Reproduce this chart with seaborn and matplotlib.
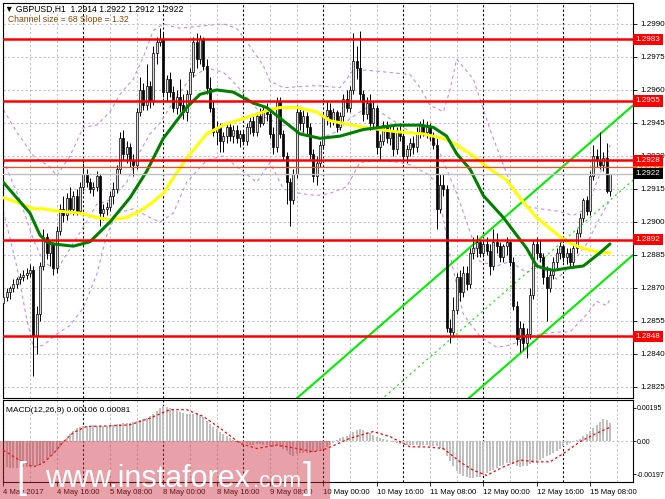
import numpy as np
import seaborn as sns
import matplotlib
matplotlib.use("Agg")
import matplotlib.pyplot as plt
from matplotlib.patches import Rectangle
from matplotlib.transforms import blended_transform_factory

# GBPUSD H1, 4 May 2017 00:00 .. 15 May 2017 14:00, one entry per bar
# prices are pips above 1.2800
BASE = 1.2800
open_pips = [63, 66, 68, 70, 72, 74, 75, 76, 77, 78, 48, 58, 80, 93, 86, 90, 79, 96, 106, 103,
             111, 106, 112, 105, 116, 122, 118, 115, 116, 121, 104, 106, 107, 112, 115, 124, 138, 131, 134, 128,
             126, 150, 160, 153, 162, 155, 177, 182, 183, 159, 165, 159, 152, 157, 153, 150, 158, 168, 182, 174,
             183, 171, 161, 152, 141, 143, 137, 139, 143, 139, 142, 138, 140, 137, 143, 146, 141, 148, 145, 151,
             149, 140, 134, 155, 140, 130, 118, 110, 122, 150, 145, 148, 143, 131, 121, 127, 135, 148, 151, 146,
             150, 143, 148, 156, 152, 160, 173, 170, 158, 149, 154, 145, 152, 134, 137, 144, 138, 142, 133, 141,
             139, 130, 133, 136, 134, 141, 144, 141, 143, 139, 135, 106, 117, 115, 52, 50, 60, 75, 68, 77,
             72, 86, 88, 91, 86, 90, 87, 80, 91, 89, 84, 89, 91, 82, 62, 47, 52, 45, 49, 67,
             90, 86, 84, 75, 70, 76, 82, 86, 89, 84, 86, 82, 88, 95, 102, 110, 105, 121, 130, 128,
             126, 129, 114]
high_pips = [68, 70, 71, 74, 75, 77, 78, 79, 81, 80, 62, 82, 97, 95, 92, 91, 98, 108, 112, 113,
             116, 114, 115, 118, 127, 124, 120, 118, 123, 122, 108, 109, 114, 118, 126, 141, 142, 137, 136, 131,
             152, 166, 163, 172, 164, 180, 184, 188, 186, 167, 168, 162, 160, 165, 158, 160, 170, 184, 186, 185,
             184, 174, 166, 155, 146, 145, 141, 145, 146, 144, 144, 142, 142, 145, 148, 148, 150, 152, 153, 154,
             151, 143, 157, 157, 142, 132, 120, 124, 153, 152, 151, 150, 145, 133, 130, 137, 150, 155, 154, 152,
             151, 150, 158, 160, 162, 186, 180, 187, 160, 157, 158, 155, 153, 140, 146, 146, 144, 144, 143, 145,
             141, 135, 138, 139, 143, 146, 147, 146, 145, 141, 138, 122, 122, 117, 56, 66, 77, 78, 80, 80,
             88, 93, 94, 92, 92, 93, 90, 97, 95, 91, 90, 93, 92, 84, 64, 55, 54, 52, 70, 92,
             93, 92, 86, 80, 78, 84, 88, 91, 90, 88, 88, 90, 97, 104, 111, 112, 123, 135, 133, 141,
             132, 136, 122]
low_pips = [61, 64, 65, 68, 70, 72, 73, 74, 75, 30, 40, 55, 78, 83, 80, 76, 77, 94, 100, 101,
            104, 103, 103, 104, 114, 116, 113, 112, 114, 98, 101, 103, 105, 108, 113, 122, 128, 127, 125, 121,
            124, 148, 151, 151, 152, 153, 172, 180, 157, 155, 157, 150, 149, 150, 147, 146, 155, 166, 170, 172,
            169, 158, 150, 139, 135, 132, 132, 136, 137, 136, 136, 134, 135, 135, 140, 139, 139, 143, 144, 146,
            138, 131, 132, 138, 128, 108, 98, 108, 120, 142, 141, 140, 128, 118, 117, 125, 133, 144, 143, 144,
            141, 142, 146, 150, 150, 158, 165, 155, 146, 147, 142, 143, 131, 128, 135, 136, 135, 130, 131, 137,
            128, 127, 130, 131, 132, 138, 139, 138, 137, 133, 97, 104, 112, 50, 45, 48, 58, 64, 66, 69,
            70, 83, 84, 84, 84, 85, 76, 78, 86, 82, 82, 85, 80, 60, 44, 41, 42, 38, 47, 65,
            83, 82, 72, 55, 68, 74, 79, 83, 82, 81, 80, 80, 86, 93, 100, 103, 103, 119, 125, 124,
            123, 113, 112]
close_pips = [66, 68, 70, 72, 74, 75, 76, 77, 78, 48, 58, 80, 93, 86, 90, 79, 96, 106, 103, 111,
              106, 112, 105, 116, 122, 118, 115, 116, 121, 104, 106, 107, 112, 115, 124, 138, 131, 134, 128, 126,
              150, 160, 153, 162, 155, 177, 182, 183, 159, 165, 159, 152, 157, 153, 150, 158, 168, 182, 174, 183,
              171, 161, 152, 141, 143, 137, 139, 143, 139, 142, 138, 140, 137, 143, 146, 141, 148, 145, 151, 149,
              140, 134, 155, 140, 130, 118, 110, 122, 150, 145, 148, 143, 131, 121, 127, 135, 148, 151, 146, 150,
              143, 148, 156, 152, 160, 173, 170, 158, 149, 154, 145, 152, 134, 137, 144, 138, 142, 133, 141, 139,
              130, 133, 136, 134, 141, 144, 141, 143, 139, 135, 106, 117, 115, 52, 50, 60, 75, 68, 77, 72,
              86, 88, 91, 86, 90, 87, 80, 91, 89, 84, 89, 91, 82, 62, 47, 52, 45, 49, 67, 90,
              86, 84, 75, 70, 76, 82, 86, 89, 84, 86, 82, 88, 95, 102, 110, 105, 121, 130, 128, 126,
              129, 114, 122]

# moving averages (bar index, pips)
green_bar = [0, 4, 8, 11, 13, 15, 21, 26, 32, 38, 43, 48, 55, 59, 64, 69, 75, 79, 84, 89, 95, 101, 108, 118,
             125, 129, 133, 136, 140, 144, 150, 153, 157, 160, 162, 165, 169, 174, 179, 182]
green_pips = [118, 111, 104, 94, 91, 90, 89, 91, 100, 111, 123, 138, 152, 158, 160, 159, 154, 152, 146, 140,
              138, 139, 142, 144, 144, 143, 139, 131, 124, 112, 102, 96, 88, 80, 79, 78, 79, 80, 86, 90]
yellow_bar = [0, 4, 9, 12, 16, 23, 28, 32, 37, 41, 44, 48, 51, 55, 61, 66, 70, 76, 80, 83, 88, 94, 98, 108,
              118, 126, 132, 135, 141, 146, 151, 156, 160, 164, 169, 174, 179, 182]
yellow_pips = [111, 109, 106, 106, 105, 104, 102, 101, 102, 105, 108, 113, 120, 129, 140, 144, 146, 149, 151,
               152, 152, 150, 146, 143, 141, 140, 138, 136, 130, 124, 119, 109, 102, 97, 91, 88, 86, 86]

# bollinger bands (bar index, pips)
upper_bar = [0, 4, 9, 14, 16, 20, 24, 28, 32, 35, 39, 42, 45, 48, 53, 59, 66, 70, 73, 78, 80, 84, 94, 101,
             105, 109, 122, 125, 128, 132, 134, 136, 141, 146, 150, 153, 157, 161, 166, 171, 175, 178, 181, 182]
upper_pips = [151, 141, 130, 125, 121, 130, 143, 144, 150, 158, 165, 175, 187, 190, 188, 189, 190, 188, 182,
              171, 164, 161, 162, 161, 169, 169, 167, 161, 153, 150, 160, 174, 165, 142, 126, 114, 107, 106,
              105, 103, 106, 118, 130, 135]
middle_bar = [0, 5, 9, 12, 16, 20, 25, 28, 32, 37, 41, 44, 47, 52, 56, 61, 66, 70, 74, 78, 82, 86, 91, 95,
              100, 104, 109, 113, 118, 122, 127, 130, 133, 136, 139, 143, 148, 152, 157, 161, 166, 170, 175,
              179, 182]
middle_pips = [128, 110, 92, 82, 78, 88, 100, 108, 110, 118, 132, 140, 145, 157, 165, 170, 168, 162, 155,
               148, 145, 143, 140, 138, 141, 147, 152, 150, 145, 141, 139, 135, 124, 113, 100, 82, 80, 82,
               77, 80, 74, 80, 90, 102, 110]
lower_bar = [0, 4, 7, 9, 12, 16, 20, 24, 28, 31, 34, 39, 44, 47, 51, 55, 61, 66, 71, 76, 80, 84, 89, 94,
             98, 103, 107, 113, 119, 122, 127, 130, 134, 138, 143, 148, 152, 157, 161, 166, 170, 175, 178,
             181, 182]
lower_pips = [105, 80, 56, 43, 44, 49, 53, 61, 76, 94, 104, 106, 102, 100, 104, 118, 128, 130, 124, 118,
              127, 115, 113, 112, 113, 116, 127, 128, 127, 126, 122, 118, 85, 58, 48, 43, 44, 47, 49, 50,
              50, 58, 64, 62, 65]

# regression channel
channel_bar = [88, 189]
channel_top = [1.28198, 1.29531]
channel_size = 68
channel_slope = 1.32

# horizontal levels
levels = [1.2983, 1.2955, 1.2928, 1.2892, 1.2848]
ask_level = 1.2925
bid_level = 1.2922

# MACD(12,26,9), values in 1e-5
macd_main = [-150, -155, -158, -160, -160, -158, -156, -155, -153, -150, -148, -140,
             -128, -112, -95, -78, -58, -35, -10, 15, 40, 60, 75, 82, 86, 88, 90,
             92, 90, 88, 87, 90, 92, 95, 98, 100, 104, 106, 108, 112, 118, 125, 130, 138, 145,
             160, 175, 192, 205, 200, 195, 188, 180, 172, 165, 162, 158, 160, 162, 155,
             140, 120, 100, 85, 70, 55, 42, 30, 18, 8,
             -5, -12, -18, -20, -22, -24, -20, -18, -22, -25, -30, -35, -25, -35,
             -45, -60, -80, -90, -75, -70, -72, -70, -68, -65, -60, -50, -45, -35, -22,
             -10, 5, 15, 22, 30, 40, 55, 65, 72, 65, 55, 45, 35, 25, 15,
             10, 5, 0, -5, -10, -15, -18, -22, -25, -22, -25, -28, -26, -24, -28, -30, -32, -40,
             -55, -90, -120, -150, -175, -195, -205, -215, -220, -218, -215, -210,
             -200, -190, -180, -170, -160, -150, -140, -132, -128, -135, -145, -152, -150, -145,
             -138, -130, -120, -110, -100, -90, -80, -70, -58, -45, -32, -22, -12, -4, 4,
             14, 28, 42, 58, 75, 92, 112, 128, 125, 106]
signal_bar = [0, 5, 9, 12, 15, 18, 21, 25, 30, 35, 38, 44, 50, 55, 60, 65, 71, 76, 82, 88, 93, 97, 104,
              111, 116, 122, 127, 132, 137, 141, 145, 150, 155, 160, 164, 168, 173, 178, 182]
signal_val = [-55, -115, -153, -130, -75, -5, 50, 86, 88, 92, 96, 135, 185, 185, 145, 76, -14, -44, -24,
              -44, -64, -45, 16, 56, 26, -34, -35, -44, -123, -173, -203, -153, -113, -123, -123, -74, -4,
              46, 81]

price_ticks = [1.2825, 1.2840, 1.2855, 1.2870, 1.2885, 1.2900, 1.2915, 1.2930, 1.2945, 1.2960, 1.2975, 1.2990]
date_bars = [0, 16, 32, 48, 64, 80, 96, 112, 128, 144, 160, 176]
date_labels = ["4 May 2017", "4 May 16:00", "5 May 08:00", "8 May 00:00", "8 May 16:00", "9 May 08:00",
               "10 May 00:00", "10 May 16:00", "11 May 08:00", "12 May 00:00", "12 May 16:00", "15 May 08:00"]

sns.set_theme(style="white")
plt.rcParams["font.family"] = ["Liberation Sans", "DejaVu Sans"]
plt.rcParams["axes.edgecolor"] = "black"
plt.rcParams["axes.linewidth"] = 0.8

px = lambda v: BASE + np.asarray(v) / 10000.0
o, h, l, c = px(open_pips), px(high_pips), px(low_pips), px(close_pips)
idx = np.arange(len(c))
xmin, xmax = -0.1, 188.9

fig = plt.figure(figsize=(6.65, 4.99), dpi=100)
ax = fig.add_axes([3 / 665, 1 - 398 / 499, 630 / 665, 395 / 499])
axm = fig.add_axes([3 / 665, 1 - 482 / 499, 630 / 665, 82 / 499])

# grid: gray every 8 bars, black day separators every 24 bars
for a in (ax, axm):
    for g in range(0, 189, 8):
        col = "black" if g % 24 == 0 else "#c4c4c4"
        a.axvline(g, color=col, lw=0.8, ls=(0, (2, 2)), zorder=1)
for t in price_ticks:
    ax.axhline(t, color="#c4c4c4", lw=0.8, ls=(0, (2, 2)), zorder=1)

# bollinger bands
band_kw = dict(color="#c58ee8", lw=0.8, linestyle=(0, (3, 3)), ax=ax, legend=False, zorder=2)
sns.lineplot(x=upper_bar, y=px(upper_pips), **band_kw)
sns.lineplot(x=middle_bar, y=px(middle_pips), **band_kw)
sns.lineplot(x=lower_bar, y=px(lower_pips), **band_kw)

# regression channel
top = np.array(channel_top)
size = channel_size / 10000.0
sns.lineplot(x=channel_bar, y=top, color="#00ee00", lw=1.5, ax=ax, legend=False, zorder=2.5)
sns.lineplot(x=channel_bar, y=top - size, color="#00ee00", lw=1.5, ax=ax, legend=False, zorder=2.5)
sns.lineplot(x=channel_bar, y=top - size / 2, color="#00ee00", lw=0.8, linestyle=(0, (2, 3)),
             ax=ax, legend=False, zorder=2.5)

# candles
bull = c >= o
body = np.where(np.abs(c - o) < 1e-6, 0.00002, c - o)
ax.vlines(idx, l, h, color="black", lw=0.7, zorder=3)
ax.bar(idx[bull], body[bull], bottom=o[bull], width=0.62, color="#dcdcdc",
       edgecolor="black", linewidth=0.5, zorder=4)
ax.bar(idx[~bull], body[~bull], bottom=o[~bull], width=0.62, color="black",
       edgecolor="black", linewidth=0.5, zorder=4)

# moving averages
sns.lineplot(x=yellow_bar, y=px(yellow_pips), color="#ffff00", lw=2.2, ax=ax, legend=False, zorder=5)
sns.lineplot(x=green_bar, y=px(green_pips), color="#008000", lw=2.2, ax=ax, legend=False, zorder=5)

# levels
ax.axhline(bid_level, color="#c0c0c0", lw=1.0, zorder=5.5)
ax.axhline(ask_level, color="#ff4a1a", lw=0.9, zorder=5.5)
for lv in levels:
    ax.axhline(lv, color="#ff0000", lw=1.8, zorder=6)

ax.set_xlim(xmin, xmax)
ax.set_ylim(1.2820, 1.29995)
ax.yaxis.tick_right()
ax.set_yticks(price_ticks)
ax.set_yticklabels([f"{t:.4f}" for t in price_ticks])
ax.tick_params(axis="y", length=3, width=0.6, labelsize=5.8, pad=2, colors="black", right=True, left=False)
ax.tick_params(axis="x", bottom=False, labelbottom=False)
ax.set_xlabel("")
ax.set_ylabel("")

# price tags on the right; the ask tag sits underneath its neighbours
trans = blended_transform_factory(ax.transAxes, ax.transData)
tags = [(ask_level, "#ff5a10", 9)] + [(lv, "#ff0000", 10) for lv in levels] + [(bid_level, "black", 10)]
for lv, col, z in tags:
    ax.text(1.004, lv, f"{lv:.4f}", transform=trans, ha="left", va="center", color="white",
            fontsize=5.8, clip_on=False, zorder=z,
            bbox=dict(boxstyle="square,pad=0.28", fc=col, ec="none"))

# MACD panel
macd = np.array(macd_main) / 1e5
axm.axhline(0, color="#c4c4c4", lw=0.8, ls=(0, (2, 2)), zorder=1)
sns.barplot(x=idx, y=macd, native_scale=True, orient="x", color="#c0c0c0", saturation=1,
            width=0.6, errorbar=None, linewidth=0, ax=axm, zorder=2)
sns.lineplot(x=signal_bar, y=np.array(signal_val) / 1e5, color="#ff0000", lw=0.9,
             linestyle=(0, (2, 2)), ax=axm, legend=False, zorder=3)
axm.set_xlim(xmin, xmax)
axm.set_ylim(-0.00242, 0.00242)
axm.yaxis.tick_right()
axm.set_yticks([0.00195, 0.0, -0.00197])
axm.set_yticklabels(["0.00195", "0.00", "-0.00197"])
axm.tick_params(axis="y", length=2, width=0.6, labelsize=5.0, pad=1, colors="black", right=True, left=False)
axm.set_xticks(date_bars)
axm.set_xticklabels(date_labels, ha="left")
axm.tick_params(axis="x", length=3, width=0.6, labelsize=5.6, pad=2, colors="black", bottom=True)
axm.set_xlabel("")
axm.set_ylabel("")

# texts
fig.text(5 / 665, 1 - 9 / 499,
         f"\u25bc GBPUSD,H1  {o[-1]:.4f} {h[-1]:.4f} {l[-1]:.4f} {c[-1]:.4f}",
         fontsize=6.2, ha="left", va="center", color="black")
fig.text(8 / 665, 1 - 20 / 499, f"Channel size = {channel_size} Slope = {channel_slope:.2f}",
         fontsize=6.2, ha="left", va="center", color="#8b4500")
fig.text(6 / 665, 1 - 410 / 499, f"MACD(12,26,9) {macd[-1]:.5f} {signal_val[-1] / 1e5:.5f}",
         fontsize=6.0, ha="left", va="center", color="black")

# watermark
fig.add_artist(Rectangle((0, 0), 330 / 665, 58 / 499, transform=fig.transFigure,
                         fc="#d03040", alpha=0.45, ec="none", zorder=20))
fig.text(16 / 665, 0.022, "[", fontsize=26, color="white", ha="left", va="baseline", zorder=21)
fig.text(45 / 665, 0.024, "www.instaforex", fontsize=22, color="white", ha="left", va="baseline", zorder=21)
fig.text(253 / 665, 0.024, ".com", fontsize=16, color="white", ha="left", va="baseline", zorder=21)
fig.text(303 / 665, 0.022, "]", fontsize=26, color="white", ha="left", va="baseline", zorder=21)

fig.savefig("out.png", dpi=100, facecolor="white")
